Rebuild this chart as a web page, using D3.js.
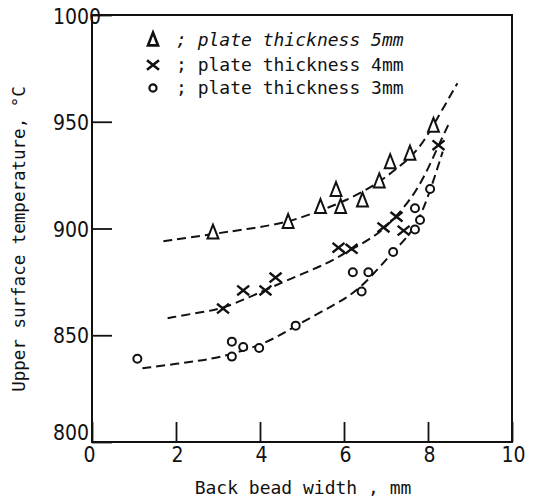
<!DOCTYPE html>
<html lang="en">
<head>
<meta charset="utf-8">
<script src="https://cdnjs.cloudflare.com/ajax/libs/d3/7.8.5/d3.min.js"></script>
<style>
  body { margin: 0; background: #fff; }
  svg { display: block; }
  .mono { font-family: "DejaVu Sans Mono", "Liberation Mono", monospace; fill: #111; }
  .num { font-family: "Liberation Sans Narrow", "DejaVu Sans Condensed", "Liberation Sans", sans-serif; font-size: 21px; fill: #111; }
</style>
</head>
<body>
<svg id="chart" width="533" height="499"></svg>
<script>
// measured points, [back bead width mm, upper surface temp C]
var plate5 = [[2.88,898],[4.67,903],[5.44,910],[5.81,918],[5.92,910],[6.44,913],[6.84,922],[7.10,931],[7.57,935],[8.13,948]];
var plate4 = [[3.12,862.5],[3.60,871],[4.13,871],[4.37,877],[5.87,891],[6.18,890.5],[6.94,900.5],[7.25,905.5],[7.42,899],[8.25,939]];
var plate3 = [[1.08,839],[3.33,847],[3.33,840],[3.60,844.5],[3.98,844],[4.85,854.5],[6.21,879.5],[6.58,879.5],[6.42,870.5],[7.17,889],[7.69,909.5],[7.81,904],[7.69,899.5],[8.05,918.5]];

// hand drawn fit curves
var curve5 = [[1.7,894],[2.9,897.5],[3.8,900],[4.7,903],[5.45,908.5],[6.05,913],[6.8,921],[7.25,928],[7.75,936],[8.12,948],[8.7,968]];
var curve4 = [[1.8,858],[2.65,861],[3.15,862.5],[4.1,871],[4.85,877.5],[5.6,883.5],[6.2,890.5],[6.8,897],[7.25,905.5],[7.8,919],[8.25,939],[8.52,950]];
var curve3 = [[1.2,834.5],[2.35,837.5],[3.05,839.5],[4.15,846],[4.85,854.5],[5.75,864],[6.4,871.5],[7.15,889],[7.65,898.5],[7.97,912.5],[8.35,936]];

var xTicks = [0, 2, 4, 6, 8, 10];
var yTicks = [800, 850, 900, 950, 1000];
var legendLabels = ["; plate thickness 5mm", "; plate thickness 4mm", "; plate thickness 3mm"];

var svg = d3.select("#chart");
var x = d3.scaleLinear().domain([0, 10]).range([92, 512]);
var y = d3.scaleLinear().domain([800, 1000]).range([442, 15]);

// marker shapes
function tri(s) { return "M0," + (-s * 0.62) + "L" + (s * 0.42) + "," + (s * 0.45) + "L" + (-s * 0.42) + "," + (s * 0.45) + "Z"; }
function cross(s) { var h = s / 2; return "M" + (-h) + "," + (-h * 0.8) + "L" + h + "," + (h * 0.8) + "M" + h + "," + (-h * 0.8) + "L" + (-h) + "," + (h * 0.8); }

// x axis ticks (inward)
var xa = svg.append("g")
    .attr("transform", "translate(0," + y(800) + ")")
    .call(d3.axisBottom(x).tickValues(xTicks).tickSize(-20).tickPadding(5).tickFormat(d3.format("d")));
xa.select(".domain").remove();
xa.selectAll("line").attr("stroke", "#111").attr("stroke-width", 1.8);
xa.selectAll("text").attr("class", "num").attr("font-size", null).attr("font-family", null).attr("fill", null)
    .attr("x", d => d == 0 ? -3 : 1);

// y axis ticks (inward)
var ya = svg.append("g")
    .attr("transform", "translate(" + x(0) + ",0)")
    .call(d3.axisLeft(y).tickValues(yTicks).tickSize(-20).tickFormat(d3.format("d")));
ya.select(".domain").remove();
ya.selectAll("line").attr("stroke", "#111").attr("stroke-width", 1.8);
ya.selectAll("text").attr("class", "num").attr("font-size", null).attr("font-family", null).attr("fill", null)
    .attr("x", -39).attr("text-anchor", "start").attr("dy", "0.36em")
    .attr("y", d => d == 800 ? -10 : (d == 1000 ? 1 : 0));

// frame
svg.append("rect")
    .attr("x", x(0)).attr("y", y(1000))
    .attr("width", x(10) - x(0)).attr("height", y(800) - y(1000))
    .attr("fill", "none").attr("stroke", "#111").attr("stroke-width", 2);

// dashed curves
var line = d3.line().x(d => x(d[0])).y(d => y(d[1])).curve(d3.curveBasis);
[curve5, curve4, curve3].forEach(function(c) {
  svg.append("path").attr("d", line(c))
    .attr("fill", "none").attr("stroke", "#111").attr("stroke-width", 2)
    .attr("stroke-dasharray", "9,5");
});

// markers
svg.append("g").selectAll("path").data(plate5).enter().append("path")
    .attr("transform", d => "translate(" + x(d[0]) + "," + y(d[1]) + ")")
    .attr("d", tri(13)).attr("fill", "#fff").attr("stroke", "#111").attr("stroke-width", 2);
svg.append("g").selectAll("path").data(plate4).enter().append("path")
    .attr("transform", d => "translate(" + x(d[0]) + "," + y(d[1]) + ")")
    .attr("d", cross(12)).attr("fill", "none").attr("stroke", "#111").attr("stroke-width", 2.4);
svg.append("g").selectAll("circle").data(plate3).enter().append("circle")
    .attr("cx", d => x(d[0])).attr("cy", d => y(d[1])).attr("r", 4)
    .attr("fill", "#fff").attr("stroke", "#111").attr("stroke-width", 2);

// legend
var lg = svg.append("g");
var rows = [40, 65, 88];
lg.append("path").attr("transform", "translate(153," + rows[0] + ")").attr("d", tri(12))
  .attr("fill", "#fff").attr("stroke", "#111").attr("stroke-width", 2.6);
lg.append("path").attr("transform", "translate(153," + rows[1] + ")").attr("d", cross(12))
  .attr("fill", "none").attr("stroke", "#111").attr("stroke-width", 2.6);
lg.append("circle").attr("cx", 153).attr("cy", rows[2]).attr("r", 3.6)
  .attr("fill", "#fff").attr("stroke", "#111").attr("stroke-width", 2.2);
lg.selectAll("text").data(legendLabels).enter().append("text")
    .attr("class", "mono")
    .attr("x", 176).attr("y", (d, i) => rows[i])
    .attr("dy", "0.35em")
    .attr("font-size", 18)
    .attr("font-style", (d, i) => i == 0 ? "italic" : "normal")
    .text(d => d);

// axis titles
svg.append("text").attr("class", "mono")
    .attr("x", 303).attr("y", 494).attr("text-anchor", "middle")
    .attr("font-size", 18)
    .text("Back bead width , mm");
svg.append("text").attr("class", "mono")
    .attr("transform", "translate(25,239) rotate(-90)")
    .attr("text-anchor", "middle")
    .attr("font-size", 17.5)
    .text("Upper surface temperature, °C");
</script>
</body>
</html>
